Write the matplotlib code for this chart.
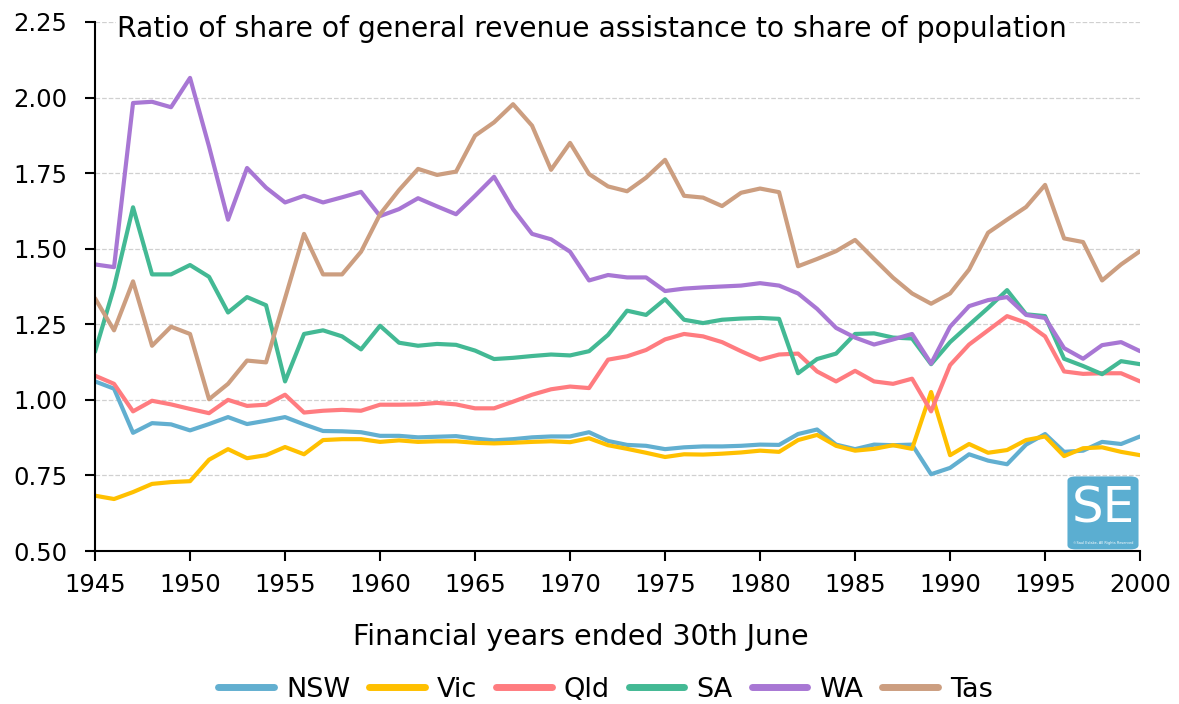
import numpy as np
import matplotlib.pyplot as plt
from matplotlib.patches import FancyBboxPatch

plt.rcParams['font.family'] = ['DejaVu Sans']

# Data
years = list(range(1945, 2001))

nsw = [1.061, 1.037, 0.891, 0.923, 0.919, 0.899, 0.920, 0.943, 0.920, 0.931,
       0.943, 0.919, 0.897, 0.896, 0.893, 0.881, 0.881, 0.876, 0.878, 0.880,
       0.872, 0.866, 0.870, 0.876, 0.879, 0.879, 0.893, 0.864, 0.851, 0.848,
       0.837, 0.843, 0.846, 0.846, 0.848, 0.852, 0.851, 0.887, 0.902, 0.852,
       0.837, 0.852, 0.850, 0.852, 0.754, 0.775, 0.820, 0.799, 0.787, 0.852,
       0.887, 0.828, 0.832, 0.861, 0.854, 0.879]
vic = [0.683, 0.672, 0.695, 0.722, 0.728, 0.731, 0.802, 0.837, 0.807, 0.817,
       0.844, 0.820, 0.867, 0.870, 0.870, 0.861, 0.866, 0.861, 0.863, 0.863,
       0.858, 0.856, 0.858, 0.861, 0.863, 0.860, 0.873, 0.850, 0.838, 0.825,
       0.811, 0.820, 0.819, 0.822, 0.826, 0.832, 0.828, 0.867, 0.884, 0.848,
       0.832, 0.838, 0.850, 0.838, 1.026, 0.817, 0.854, 0.825, 0.834, 0.867,
       0.879, 0.814, 0.840, 0.843, 0.828, 0.817]
qld = [1.080, 1.053, 0.962, 0.997, 0.985, 0.970, 0.956, 1.000, 0.980, 0.984,
       1.017, 0.958, 0.964, 0.967, 0.964, 0.984, 0.984, 0.985, 0.990, 0.985,
       0.972, 0.972, 0.994, 1.017, 1.035, 1.044, 1.039, 1.133, 1.144, 1.165,
       1.200, 1.218, 1.210, 1.191, 1.161, 1.133, 1.150, 1.153, 1.094, 1.061,
       1.096, 1.061, 1.053, 1.070, 0.962, 1.115, 1.183, 1.230, 1.277, 1.255,
       1.210, 1.094, 1.086, 1.088, 1.088, 1.061]
sa = [1.159, 1.372, 1.637, 1.415, 1.415, 1.446, 1.407, 1.289, 1.340, 1.313,
      1.061, 1.218, 1.230, 1.210, 1.167, 1.245, 1.189, 1.179, 1.185, 1.182,
      1.163, 1.135, 1.139, 1.145, 1.150, 1.147, 1.161, 1.215, 1.295, 1.281,
      1.333, 1.265, 1.254, 1.265, 1.269, 1.271, 1.268, 1.088, 1.135, 1.153,
      1.218, 1.220, 1.206, 1.203, 1.118, 1.191, 1.248, 1.304, 1.363, 1.283,
      1.277, 1.136, 1.112, 1.085, 1.128, 1.118]
wa = [1.448, 1.439, 1.982, 1.986, 1.968, 2.065, 1.838, 1.596, 1.767, 1.702,
      1.653, 1.675, 1.653, 1.670, 1.688, 1.608, 1.631, 1.667, 1.640, 1.614,
      1.675, 1.738, 1.631, 1.549, 1.531, 1.490, 1.395, 1.413, 1.405, 1.405,
      1.360, 1.368, 1.372, 1.375, 1.378, 1.386, 1.378, 1.352, 1.301, 1.238,
      1.206, 1.183, 1.200, 1.218, 1.120, 1.242, 1.310, 1.330, 1.340, 1.281,
      1.271, 1.171, 1.136, 1.181, 1.191, 1.161]
tas = [1.336, 1.230, 1.392, 1.179, 1.242, 1.218, 1.002, 1.053, 1.130, 1.124,
       1.336, 1.549, 1.415, 1.415, 1.490, 1.614, 1.694, 1.764, 1.744, 1.755,
       1.874, 1.918, 1.978, 1.907, 1.761, 1.850, 1.747, 1.706, 1.690, 1.735,
       1.794, 1.675, 1.669, 1.641, 1.685, 1.699, 1.687, 1.442, 1.466, 1.492,
       1.529, 1.466, 1.404, 1.352, 1.318, 1.352, 1.431, 1.553, 1.596, 1.638,
       1.711, 1.534, 1.522, 1.395, 1.448, 1.492]

series = {'NSW': nsw, 'Vic': vic, 'Qld': qld, 'SA': sa, 'WA': wa, 'Tas': tas}
colours = {'NSW': '#62AFD0', 'Vic': '#FFC000', 'Qld': '#FF7C80',
           'SA': '#43B994', 'WA': '#A877D4', 'Tas': '#CC9E80'}

fig = plt.figure(figsize=(11.79, 7.04), dpi=100)
ax = fig.add_axes([0.0806, 0.2173, 0.8864, 0.7515])

for name, values in series.items():
    ax.plot(years, values, color=colours[name], lw=3, label=name,
            solid_joinstyle='round', solid_capstyle='round')

ax.set_xlim(1945, 2000)
ax.set_ylim(0.5, 2.25)
ax.set_xticks(np.arange(1945, 2001, 5))
ax.set_yticks(np.arange(0.5, 2.26, 0.25))
ax.set_yticklabels(['{:.2f}'.format(v) for v in np.arange(0.5, 2.26, 0.25)])
ax.tick_params(axis='both', labelsize=17.5, colors='black', width=1.5)
ax.tick_params(axis='x', length=7.5, pad=8)
ax.tick_params(axis='y', length=7, pad=13)
ax.grid(axis='y', color='#D0D0D0', linestyle='--', linewidth=0.9)
ax.set_axisbelow(True)
for side in ['top', 'right']:
    ax.spines[side].set_visible(False)
for side in ['left', 'bottom']:
    ax.spines[side].set_linewidth(1.5)

ax.set_xlabel('Financial years ended 30th June', fontsize=20.5)
ax.xaxis.set_label_coords(0.465, -0.136)

ax.text(0.021, 0.9716, 'Ratio of share of general revenue assistance to share of population',
        transform=ax.transAxes, fontsize=20.3, ha='left', va='baseline',
        bbox=dict(facecolor='white', edgecolor='none', pad=1))

# SE logo
logo = FancyBboxPatch((0.9305, 0.003), 0.068, 0.138, transform=ax.transAxes,
                      boxstyle='round,pad=0,rounding_size=0.008',
                      facecolor='#5BAED1', edgecolor='none', zorder=5)
ax.add_patch(logo)
ax.text(0.9645, 0.08, 'SE', transform=ax.transAxes, fontsize=36, color='white',
        ha='center', va='center', zorder=6)
ax.text(0.9645, 0.016, '©Saul Eslake, All Rights Reserved', transform=ax.transAxes,
        fontsize=2.5, color='white', ha='center', va='center', zorder=6)

leg = fig.legend(loc='center', ncol=6, frameon=False, fontsize=19.5,
                 bbox_to_anchor=(0.5136, 0.02), handlelength=2.05, columnspacing=0.7,
                 handletextpad=0.45)
for line in leg.get_lines():
    line.set_linewidth(5)
    line.set_solid_capstyle('round')

fig.savefig('out.png', dpi=100)
